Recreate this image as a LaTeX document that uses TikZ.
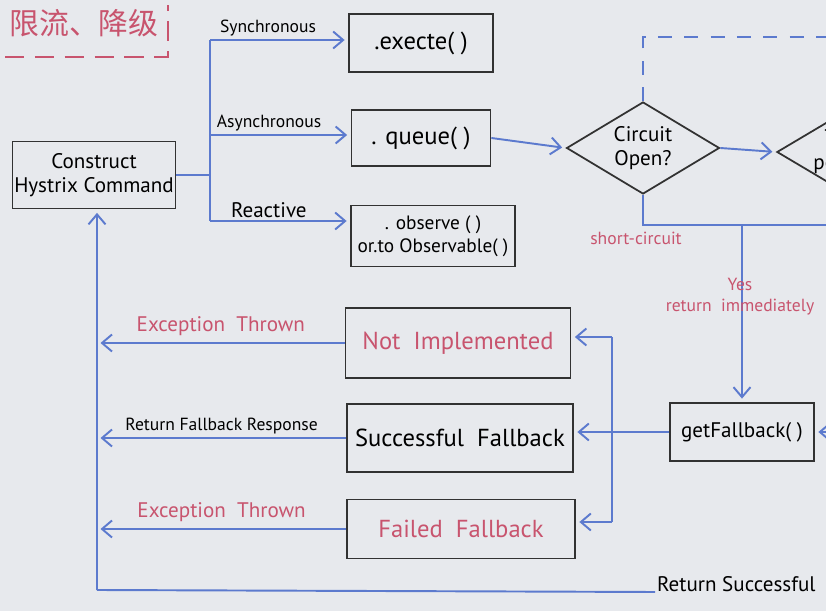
\documentclass[tikz,border=0pt]{standalone}
\usepackage{fontspec}
\setmainfont{PT Sans}
\newfontfamily\cjk{Noto Sans CJK SC}
\usetikzlibrary{arrows.meta,shapes.geometric}
\definecolor{board}{RGB}{231,233,237}
\definecolor{pen}{RGB}{92,122,206}
\definecolor{ink}{RGB}{50,50,50}
\definecolor{marker}{RGB}{200,84,110}
\begin{document}
\begin{tikzpicture}[x = 0.02cm, y = -0.02cm,
		box/.style = {draw = ink, line width = 1pt, align = center, inner sep = 0pt},
		dia/.style = {diamond, aspect = 1.68, draw = ink, line width = 1pt, align = center, inner sep = 0pt,
			minimum width = 3.06cm, minimum height = 1.84cm},
		flow/.style = {draw = pen, line width = 1.1pt},
		arr/.style = {flow, -{Straight Barb[length = 2mm, width = 3.4mm]}, shorten > = 2pt},
		small/.style = {font = \fontsize{10}{12}\selectfont, inner sep = 1.5pt},
		mid/.style = {font = \fontsize{12}{14}\selectfont},
		big/.style = {font = \fontsize{14}{16}\selectfont},
		red/.style = {text = marker}]
				\clip (0,0) rectangle (826,611);
				\fill[board] (0,0) rectangle (826,611);
				\node[red, font = \cjk\fontsize{17}{20}\selectfont] (title) at (84,23) {限流、降级};
				\coordinate (tl) at (5,57);
				\coordinate (tr) at (168,57);
				\coordinate (tt) at (168,5);
				\draw[marker, line width = 0.9pt, dash pattern = on 11pt off 6pt] (tl) -- (tr) -- (tt);
				\node[box, mid, minimum width = 3.26cm, minimum height = 1.34cm] (cons) at (94,175) {Construct\\Hystrix Command};
				\node[box, big, minimum width = 2.88cm, minimum height = 1.16cm] (exe) at (421,43) {.execte( )};
				\node[box, big, minimum width = 2.78cm, minimum height = 1.12cm] (que) at (421,138) {. queue( )};
				\node[box, font = \fontsize{11}{13}\selectfont, minimum width = 3.28cm, minimum height = 1.22cm] (obs) at (433,236) {. observe ( )\\or.to Observable( )};
				\node[dia, mid] (co) at (643,148) {Circuit\\Open?};
				\node[dia, mid, anchor = west] (tp) at (776,152) {Thread\\pool full?};
				\node[box, mid, minimum width = 2.88cm, minimum height = 1.16cm] (fb) at (742,432) {getFallback( )};
				\node[box, big, red, minimum width = 4.5cm, minimum height = 1.4cm] (ni) at (458,343) {Not \ Implemented};
				\node[box, big, minimum width = 4.52cm, minimum height = 1.36cm] (succ) at (460,438) {Successful \ Fallback};
				\node[box, big, red, minimum width = 4.56cm, minimum height = 1.18cm] (fail) at (461,529) {Failed \ Fallback};
				\coordinate (split) at (210,175);
				\coordinate (syn) at (210,40);
				\coordinate (asy) at (210,135);
				\coordinate (rea) at (210,221);
				\draw[flow] (cons.east) -- (split);
				\draw[flow] (syn) -- (rea);
				\draw[arr] (syn) -- (syn -| exe.west) node[small, pos = 0.42, above] {Synchronous};
				\draw[arr] (asy) -- (asy -| que.west) node[small, pos = 0.42, above] {Asynchronous};
				\draw[arr] (rea) -- (rea -| obs.west) node[small, mid, pos = 0.42, above] {Reactive};
				\draw[arr] (que.east) -- (co.west);
				\draw[arr] (co.east) -- (tp.west);
				\coordinate (dash) at (830,37);
				\draw[flow, dash pattern = on 8pt off 7pt] (co.north) |- (dash);
				\coordinate (sc) at (830,225);
				\coordinate (yes) at (742,225);
				\draw[flow] (co.south) |- (sc);
				\node[small, red] at (636,238) {short-circuit};
				\draw[arr] (yes) -- (fb.north);
				\node[small, red, align = center] at (740,297) {Yes\\return \ immediately};
				\coordinate (fbin) at (832,432);
				\draw[arr] (fbin) -- (fb.east);
				\draw[arr] (fb.west) -- (fb.west -| succ.east);
				\coordinate (bt) at (612,337);
				\coordinate (bb) at (612,522);
				\draw[flow] (bt) -- (bb);
				\draw[arr] (bt) -- (bt -| ni.east);
				\draw[arr] (bb) -- (bb -| fail.east);
				\coordinate (ret) at (97,590);
				\node[mid, anchor = base west, inner sep = 1pt] (rs) at (655,592) {Return Successful};
				\draw[flow] (ret) -- (rs.base west);
				\draw[arr] (ret) -- (ret |- cons.south);
				\draw[arr] (ni.west) -- (ni.west -| ret) node[mid, red, pos = 0.5, above] {Exception \ Thrown};
				\draw[arr] (succ.west) -- (succ.west -| ret) node[small, pos = 0.5, above] {Return Fallback Response};
				\draw[arr] (fail.west) -- (fail.west -| ret) node[mid, red, pos = 0.5, above] {Exception \ Thrown};
		\end{tikzpicture}
\end{document}
